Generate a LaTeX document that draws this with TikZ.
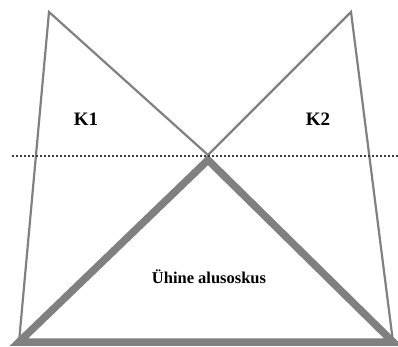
\documentclass[tikz,border=0pt]{standalone}
\usepackage{fontspec}
\setmainfont{Liberation Serif}
\usepackage{xcolor}
\definecolor{edgegray}{RGB}{128, 128, 128}
\definecolor{dotgray}{RGB}{60, 60, 60}

\tikzset{
  thinedge/.style={edgegray, line width=2.2pt},
  thickedge/.style={edgegray, line width=7.5pt, line join=miter},
  levelline/.style={dotgray, line width=2.2pt, dash pattern=on 2pt off 2pt},
  label/.style={font=\bfseries}
}

\begin{document}
\begin{tikzpicture}[x=1pt, y=-1pt]
    \useasboundingbox (0,0) rectangle (398,347);

    % Corner points
    \coordinate (topL) at (49,12);
    \coordinate (topR) at (351,12);
    \coordinate (cross) at (208,155);
    \coordinate (apex) at (208,160);
    \coordinate (botL) at (19,342);
    \coordinate (botR) at (393,342);
    \coordinate (lvlL) at (12,156);
    \coordinate (lvlR) at (398,156);

    % Outer edges and upper diagonals
    \draw[thinedge] (botL) -- (topL) -- (cross) -- (topR) -- (botR);

    % Shared base triangle
    \draw[thickedge] (apex) -- (botL) -- (botR) -- cycle;

    % Level line
    \draw[levelline] (lvlL) -- (lvlR);

    % Labels
    \node[label, font=\bfseries\fontsize{19}{22}\selectfont] (k1) at (86,119) {K1};
    \node[label, font=\bfseries\fontsize{19}{22}\selectfont] (k2) at (318,119) {K2};
    \node[label, font=\bfseries\fontsize{16.5}{19}\selectfont] (base) at (209,277) {Ühine alusoskus};
\end{tikzpicture}
\end{document}
